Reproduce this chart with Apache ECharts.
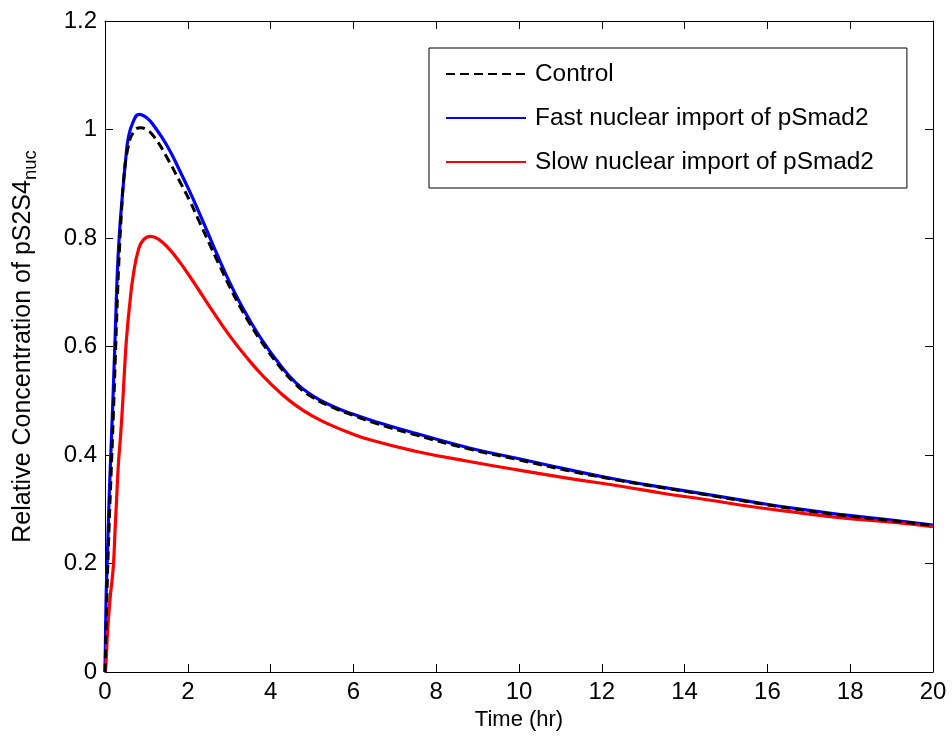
<!DOCTYPE html>
<html><head><meta charset="utf-8">
<script src="https://cdn.jsdelivr.net/npm/echarts@6/dist/echarts.min.js"></script>
<style>html,body{margin:0;padding:0;background:#fff}#c{width:952px;height:747px}</style>
</head><body><div id="c"></div>
<script>
const xTicks = [0, 2, 4, 6, 8, 10, 12, 14, 16, 18, 20];
const yTicks = [0, 0.2, 0.4, 0.6, 0.8, 1, 1.2];
const seriesNames = ['Control', 'Fast nuclear import of pSmad2', 'Slow nuclear import of pSmad2'];

const controlT = [0, 0.05, 0.1, 0.15, 0.2, 0.25, 0.3, 0.35, 0.4, 0.46, 0.56, 0.68, 0.85, 1.0, 1.2, 1.5, 1.8, 2.05, 2.25, 2.5, 2.75, 3.0, 3.25, 3.5, 3.75, 4.2, 4.6, 5.0, 5.5, 6.0, 6.6, 7.5, 8.8, 10, 11.2, 12.5, 13.6, 14.5, 15.6, 16.7, 17.8, 19, 20];
const controlV = [0, 0.15, 0.27, 0.37, 0.47, 0.58, 0.69, 0.78, 0.85, 0.915, 0.968, 0.994, 1.003, 1.0, 0.985, 0.948, 0.905, 0.868, 0.835, 0.793, 0.752, 0.712, 0.675, 0.642, 0.612, 0.565, 0.531, 0.507, 0.488, 0.473, 0.457, 0.437, 0.411, 0.391, 0.371, 0.352, 0.338, 0.327, 0.313, 0.300, 0.289, 0.279, 0.270];

const fastT = [0, 0.025, 0.06, 0.1, 0.15, 0.2, 0.25, 0.3, 0.35, 0.4, 0.45, 0.5, 0.56, 0.68, 0.83, 1.0, 1.2, 1.5, 1.8, 2.05, 2.25, 2.46, 2.7, 3.0, 3.25, 3.5, 3.75, 4.2, 4.6, 5.0, 5.5, 6.0, 6.6, 7.5, 8.8, 10, 11.2, 12.5, 13.6, 14.5, 15.6, 16.7, 17.8, 19, 20];
const fastV = [0, 0.13, 0.22, 0.32, 0.42, 0.52, 0.63, 0.74, 0.81, 0.86, 0.905, 0.945, 0.983, 1.014, 1.028, 1.022, 1.005, 0.97, 0.925, 0.885, 0.851, 0.814, 0.771, 0.72, 0.682, 0.648, 0.617, 0.569, 0.534, 0.510, 0.490, 0.475, 0.460, 0.44, 0.413, 0.393, 0.373, 0.353, 0.339, 0.328, 0.314, 0.301, 0.290, 0.280, 0.271];

const slowT = [0, 0.02, 0.06, 0.12, 0.2, 0.24, 0.28, 0.32, 0.38, 0.43, 0.47, 0.52, 0.6, 0.68, 0.81, 0.93, 1.09, 1.29, 1.57, 1.81, 2.05, 2.25, 2.62, 3.0, 3.42, 3.8, 4.23, 4.6, 5.03, 5.4, 5.84, 6.4, 7.5, 8.8, 10, 11.2, 12.5, 13.5, 14.5, 15.6, 16.7, 17.8, 19, 20];
const slowV = [0, 0.01, 0.07, 0.133, 0.194, 0.256, 0.318, 0.379, 0.44, 0.50, 0.555, 0.615, 0.68, 0.73, 0.779, 0.797, 0.803, 0.798, 0.778, 0.755, 0.729, 0.706, 0.663, 0.621, 0.58, 0.547, 0.515, 0.492, 0.471, 0.457, 0.443, 0.428, 0.407, 0.388, 0.372, 0.357, 0.342, 0.329, 0.318, 0.305, 0.294, 0.284, 0.276, 0.268];

const zip = (t, v) => t.map((x, i) => [x, v[i]]);
const FONT = 'Liberation Sans, Arial, sans-serif';

const chart = echarts.init(document.getElementById('c'), null, {renderer: 'canvas'});
const lineAx = {show: true, onZero: false, lineStyle: {color: '#000', width: 1}};
const tickIn = {show: true, inside: true, length: 8, lineStyle: {color: '#000', width: 1}};
chart.setOption({
  backgroundColor: '#fff',
  animation: false,
  grid: {left: 105, right: 19, top: 21, bottom: 75},
  legend: {
    orient: 'vertical', left: 429, top: 48,
    padding: [14, 33, 14, 16], itemGap: 20,
    itemWidth: 80, itemHeight: 14,
    backgroundColor: '#fff', borderColor: '#000', borderWidth: 1,
    itemStyle: {opacity: 0, borderWidth: 0},
    textStyle: {fontFamily: FONT, fontSize: 24.4, color: '#000', padding: [0, 0, 0, 4]},
    data: seriesNames
  },
  xAxis: [{
    type: 'value', min: xTicks[0], max: xTicks[xTicks.length - 1], interval: 2,
    axisLine: lineAx, axisTick: tickIn, splitLine: {show: false},
    axisLabel: {fontFamily: FONT, fontSize: 24, color: '#000', margin: 8},
    name: 'Time (hr)', nameLocation: 'middle', nameGap: 36,
    nameTextStyle: {fontFamily: FONT, fontSize: 22, color: '#000'}
  }, {
    type: 'value', position: 'top', min: xTicks[0], max: xTicks[xTicks.length - 1], interval: 2,
    axisLine: lineAx, axisTick: tickIn, splitLine: {show: false}, axisLabel: {show: false}
  }],
  yAxis: [{
    type: 'value', min: yTicks[0], max: yTicks[yTicks.length - 1], interval: 0.2,
    axisLine: lineAx, axisTick: tickIn, splitLine: {show: false},
    axisLabel: {fontFamily: FONT, fontSize: 24, color: '#000', margin: 8,
      formatter: v => String(Math.round(v * 10) / 10)},
    name: 'Relative Concentration of pS2S4{sub|nuc}', nameLocation: 'middle', nameGap: 65,
    nameTextStyle: {fontFamily: FONT, fontSize: 25, color: '#000',
      rich: {sub: {fontFamily: FONT, fontSize: 18.5, color: '#000', padding: [14, 0, 0, 0]}}}
  }, {
    type: 'value', position: 'right', min: yTicks[0], max: yTicks[yTicks.length - 1], interval: 0.2,
    axisLine: lineAx, axisTick: tickIn, splitLine: {show: false}, axisLabel: {show: false}
  }],
  series: [
    {name: seriesNames[0], type: 'line', data: zip(controlT, controlV), showSymbol: false, symbol: 'none',
     smooth: 0.5, z: 3,
     lineStyle: {color: '#000', width: 3, type: [9, 5]}, itemStyle: {color: '#000'}},
    {name: seriesNames[1], type: 'line', data: zip(fastT, fastV), showSymbol: false, symbol: 'none',
     smooth: 0.5, z: 2,
     lineStyle: {color: '#0000ff', width: 3.2}, itemStyle: {color: '#0000ff'}},
    {name: seriesNames[2], type: 'line', data: zip(slowT, slowV), showSymbol: false, symbol: 'none',
     smooth: 0.5, z: 2,
     lineStyle: {color: '#ff0000', width: 3.2}, itemStyle: {color: '#ff0000'}}
  ]
});
</script></body></html>
